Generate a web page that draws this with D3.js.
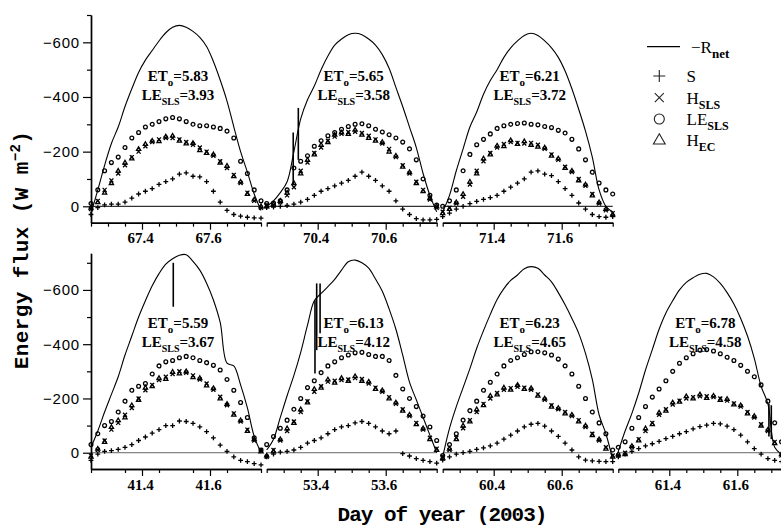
<!DOCTYPE html>
<html><head><meta charset="utf-8">
<script src="https://cdn.jsdelivr.net/npm/d3@7"></script>
<style>body{margin:0;background:#fff}svg{display:block}</style>
</head><body><svg id="c" width="781" height="528"></svg>
<script>
// ---------------- DATA ----------------
const panelDays = [67, 70, 71, 41, 53, 60, 61];
const etoValues = ["5.83", "5.65", "6.21", "5.59", "6.13", "6.23", "6.78"];
const lesValues = ["3.93", "3.58", "3.72", "3.67", "4.12", "4.65", "4.58"];
const majorTickLabels = [[67.4, 67.6], [70.4, 70.6], [71.4, 71.6], [41.4, 41.6], [53.4, 53.6], [60.4, 60.6], [61.4, 61.6]];
const yTickLabels = [-600, -400, -200, 0];
const yMinorTicks = [-700, -500, -300, -100];
// sample times: fraction of day after (day + 0.25)
const sampleOffsets = [0.00,0.02,0.04,0.06,0.08,0.10,0.12,0.14,0.16,0.18,0.20,0.22,0.24,0.26,0.28,0.30,0.32,0.34,0.36,0.38,0.40,0.42,0.44,0.46,0.48,0.50];

const rnet67 = [25,-60,-150,-230,-290,-365,-430,-490,-535,-570,-605,-635,-655,-662,-655,-640,-618,-585,-530,-462,-385,-291,-200,-125,-45,15];
const le67   = [-10,-60,-130,-160,-180,-215,-250,-270,-290,-300,-310,-320,-325,-320,-310,-300,-295,-295,-290,-285,-275,-250,-165,-120,-60,-20];
const h67    = [10,-20,-60,-95,-120,-150,-180,-200,-220,-235,-245,-250,-250,-245,-235,-225,-215,-200,-185,-165,-140,-115,-85,-50,-20,5];
const hec67  = [5,-15,-50,-85,-130,-160,-175,-210,-228,-240,-238,-255,-258,-240,-230,-232,-205,-195,-190,-160,-148,-110,-90,-45,-25,0];
const s67    = [30,5,-5,-8,-8,-15,-30,-45,-55,-65,-80,-90,-100,-118,-122,-110,-108,-90,-55,-15,15,30,36,40,42,43];

const rnet70 = [0,-20,-50,-90,-200,-320,-390,-440,-500,-550,-590,-612,-628,-633,-628,-612,-590,-555,-505,-435,-365,-290,-215,-120,-40,20];
const le70   = [-10,-12,-20,-60,-140,-165,-185,-220,-240,-258,-270,-282,-292,-300,-302,-295,-282,-272,-262,-250,-235,-210,-170,-100,-40,-5];
const h70    = [-5,-5,-15,-40,-70,-130,-160,-195,-215,-240,-255,-265,-272,-273,-268,-258,-245,-230,-210,-180,-150,-120,-90,-60,-25,5];
const hec70  = [0,-8,-20,-50,-85,-120,-170,-190,-225,-235,-262,-270,-265,-280,-262,-250,-240,-235,-200,-185,-145,-125,-85,-55,-30,0];
const s70    = [5,3,0,-3,-8,-15,-25,-40,-55,-65,-75,-85,-95,-110,-125,-110,-95,-75,-55,-20,10,30,45,50,50,48];

const rnet71 = [20,-40,-130,-210,-290,-345,-410,-460,-500,-545,-580,-605,-625,-633,-625,-605,-580,-545,-495,-430,-355,-275,-180,-60,0,20];
const le71   = [0,-20,-60,-130,-190,-225,-245,-265,-285,-295,-300,-303,-305,-300,-298,-292,-288,-278,-268,-245,-210,-170,-125,-85,-60,-45];
const h71    = [20,5,-10,-35,-80,-130,-165,-195,-215,-228,-235,-232,-230,-232,-225,-210,-190,-170,-145,-125,-100,-75,-45,-10,15,25];
const hec71  = [25,10,-15,-45,-90,-120,-175,-190,-222,-220,-242,-228,-238,-225,-218,-215,-185,-175,-140,-130,-95,-80,-40,-15,10,30];
const s71    = [38,25,10,0,-10,-18,-25,-32,-40,-55,-70,-85,-100,-125,-130,-118,-112,-90,-65,-40,-12,10,30,38,40,38];

const rnet41 = [-20,-80,-150,-215,-280,-360,-430,-500,-560,-615,-660,-695,-715,-728,-730,-705,-673,-625,-563,-480,-330,-320,-250,-165,-60,0];
const le41   = [-30,-70,-100,-115,-150,-190,-230,-245,-255,-290,-320,-335,-340,-350,-355,-350,-340,-332,-322,-305,-270,-230,-185,-130,-55,-10];
const h41    = [10,-10,-45,-85,-110,-140,-165,-200,-230,-250,-268,-280,-290,-300,-295,-285,-270,-255,-232,-206,-175,-145,-115,-85,-45,-10];
const hec41  = [15,-15,-40,-95,-120,-130,-175,-195,-240,-245,-275,-272,-298,-292,-300,-278,-275,-248,-238,-200,-180,-140,-120,-80,-50,-5];
const s41    = [28,5,-5,-8,-12,-20,-30,-45,-58,-72,-85,-100,-100,-117,-115,-108,-95,-78,-55,-28,-5,15,28,33,40,45];

const rnet53 = [-10,-50,-130,-210,-285,-370,-470,-560,-587,-612,-639,-673,-704,-710,-700,-680,-640,-595,-530,-455,-360,-260,-195,-130,-65,0];
const le53   = [-30,-60,-90,-120,-160,-200,-240,-265,-295,-320,-335,-350,-360,-368,-370,-362,-355,-355,-340,-285,-235,-200,-170,-135,-95,-45];
const h53    = [15,-10,-45,-80,-115,-150,-190,-225,-245,-262,-265,-268,-270,-275,-272,-255,-240,-225,-205,-180,-160,-135,-110,-85,-55,-15];
const hec53  = [10,-5,-50,-90,-110,-160,-185,-235,-240,-270,-258,-275,-265,-282,-265,-262,-235,-230,-200,-185,-155,-140,-105,-90,-50,-10];
const s53    = [15,5,-2,-5,-10,-20,-35,-45,-55,-70,-85,-95,-100,-110,-115,-108,-95,-80,-70,-80,3,12,22,28,33,38];

const rnet60 = [15,-90,-170,-240,-310,-385,-450,-510,-565,-605,-635,-655,-678,-686,-680,-655,-630,-590,-545,-495,-440,-366,-270,-140,-70,25];
const le60   = [10,-30,-70,-120,-155,-190,-230,-260,-290,-320,-340,-350,-362,-372,-372,-368,-360,-345,-320,-290,-245,-200,-150,-110,-70,-10];
const h60    = [15,-10,-55,-90,-120,-150,-180,-200,-220,-232,-238,-243,-240,-232,-215,-195,-175,-160,-150,-135,-120,-95,-70,-45,-20,10];
const hec60  = [20,-15,-50,-100,-115,-160,-175,-210,-215,-240,-232,-250,-235,-238,-210,-200,-170,-165,-145,-140,-115,-100,-65,-50,-15,15];
const s60    = [27,15,5,0,-5,-12,-18,-25,-35,-50,-65,-80,-95,-105,-108,-98,-80,-60,-35,-10,15,27,30,32,33,33];

const rnet61 = [-5,-80,-145,-220,-305,-380,-455,-515,-560,-600,-628,-645,-658,-661,-648,-624,-590,-548,-495,-430,-348,-245,-180,-20,5,10];
const le61   = [-20,-40,-90,-130,-170,-205,-235,-265,-300,-330,-350,-365,-378,-380,-375,-365,-352,-340,-322,-300,-280,-250,-190,-110,-40,-15];
const h61    = [10,0,-20,-50,-80,-110,-140,-160,-178,-192,-200,-205,-208,-208,-205,-200,-192,-182,-170,-150,-130,-105,-80,-40,10,15];
const hec61  = [5,5,-25,-45,-90,-105,-148,-155,-185,-188,-208,-200,-215,-202,-210,-195,-198,-178,-175,-145,-135,-100,-85,-35,5,20];
const s61    = [15,5,-5,-15,-25,-33,-42,-52,-60,-70,-78,-88,-96,-102,-108,-106,-98,-85,-65,-40,-15,5,22,28,33,35];

// short spikes in the -Rnet record: [day, value from, value to]
const rnetSpikes = [[70.328,-80,-270],[70.343,-170,-360],[41.492,-700,-538],[53.392,-562,-292],[53.397,-624,-378],[53.407,-624,-440],[61.693,-180,-60],[61.700,-175,-50]];

const rnetList = [rnet67, rnet70, rnet71, rnet41, rnet53, rnet60, rnet61];
const leList   = [le67, le70, le71, le41, le53, le60, le61];
const hList    = [h67, h70, h71, h41, h53, h60, h61];
const hecList  = [hec67, hec70, hec71, hec41, hec53, hec60, hec61];
const sList    = [s67, s70, s71, s41, s53, s60, s61];

// ---------------- LAYOUT ----------------
const svg = d3.select("#c");
const SERIF = "'Liberation Serif','Times New Roman',serif";
const SANS = "'Liberation Sans',Arial,sans-serif";
const MONO = "'Liberation Mono','Courier New',monospace";
const rows = [
  {top: 15, bottom: 222.7, vTop: -700, vBottom: 60, zero: "#000"},
  {top: 253.3, bottom: 469, vTop: -735, vBottom: 60, zero: "#666"}
];
const colX = [91, 266.7, 442.7, 618.3];
const panelW = 170;

const defs = svg.append("defs");
defs.append("clipPath").attr("id", "pageclip").append("rect").attr("width", 781).attr("height", 528);
const root = svg.append("g").attr("clip-path", "url(#pageclip)");

function markerPath(type, x, y, s) {
  if (type === "plus") return `M${x-s},${y}H${x+s}M${x},${y-s}V${y+s}`;
  if (type === "times") return `M${x-s},${y-s}L${x+s},${y+s}M${x-s},${y+s}L${x+s},${y-s}`;
  if (type === "tri") return `M${x},${y-s}L${x+s*0.95},${y+s*0.65}L${x-s*0.95},${y+s*0.65}Z`;
  return `M${x+s},${y}A${s},${s} 0 1,1 ${x-s},${y}A${s},${s} 0 1,1 ${x+s},${y}Z`;
}

panelDays.forEach((day, i) => {
  const r = i < 3 ? 0 : 1;
  const col = i < 3 ? i : i - 3;
  const R = rows[r];
  const x0 = colX[col];
  const x = d3.scaleLinear().domain([day + 0.25, day + 0.75]).range([x0, x0 + panelW]);
  const y = d3.scaleLinear().domain([R.vTop, R.vBottom]).range([R.top, R.bottom]);
  const g = root.append("g");

  // zero line
  g.append("line").attr("x1", x0).attr("x2", x0 + panelW).attr("y1", y(0)).attr("y2", y(0))
    .attr("stroke", R.zero).attr("stroke-width", 1);

  // x axis
  const step = (day === 41) ? 0.1 : 0.05;
  const minorVals = d3.range(day + 0.25, day + 0.7501, step).map(v => +v.toFixed(3))
    .filter(v => !majorTickLabels[i].some(m => Math.abs(m - v) < 1e-6));
  const axMinor = d3.axisBottom(x).tickValues(minorVals).tickSize(4).tickSizeOuter(0).tickFormat("");
  const axMajor = d3.axisBottom(x).tickValues(majorTickLabels[i]).tickSize(7).tickSizeOuter(0).tickFormat(d3.format(".1f"));
  const gx1 = g.append("g").attr("transform", `translate(0,${R.bottom})`).call(axMinor);
  const gx2 = g.append("g").attr("transform", `translate(0,${R.bottom})`).call(axMajor);
  [gx1, gx2].forEach(a => {
    a.select(".domain").attr("stroke", "#000").attr("stroke-width", 1.4);
    a.selectAll(".tick line").attr("stroke", "#000").attr("stroke-width", 1.2);
  });
  gx2.selectAll(".tick text").attr("font-family", SERIF).attr("font-size", 15).attr("font-weight", "bold")
    .attr("fill", "#000").attr("dx", -2);

  // y axis (first panel of each row)
  if (col === 0) {
    const ayMinor = d3.axisLeft(y).tickValues(yMinorTicks).tickSize(4).tickSizeOuter(0).tickFormat("");
    const ayMajor = d3.axisLeft(y).tickValues(yTickLabels).tickSize(8).tickSizeOuter(0)
      .tickFormat(d => d < 0 ? "\u2212" + Math.abs(d) : String(d));
    const gy1 = g.append("g").attr("transform", `translate(${x0},0)`).call(ayMinor);
    const gy2 = g.append("g").attr("transform", `translate(${x0},0)`).call(ayMajor);
    [gy1, gy2].forEach(a => {
      a.select(".domain").attr("stroke", "#000").attr("stroke-width", 1.4);
      a.selectAll(".tick line").attr("stroke", "#000").attr("stroke-width", 1.2);
    });
    gy2.selectAll(".tick text").attr("font-family", SANS).attr("font-size", 15).attr("fill", "#000")
      .attr("letter-spacing", 0.8);
  }

  const t = sampleOffsets.map(o => day + 0.25 + o);
  const pts = arr => arr.map((v, k) => [x(t[k]), y(v)]);

  // scatter series
  const series = [
    {data: leList[i], type: "circ", s: 1.9},
    {data: hList[i], type: "times", s: 2.0},
    {data: hecList[i], type: "tri", s: 2.2},
    {data: sList[i], type: "plus", s: 2.4}
  ];
  series.forEach(se => {
    g.append("g").selectAll("path").data(pts(se.data)).join("path")
      .attr("d", p => markerPath(se.type, p[0], p[1], se.s))
      .attr("fill", "none").attr("stroke", "#000").attr("stroke-width", 1.3);
  });

  // -Rnet line
  const line = d3.line().x(p => p[0]).y(p => p[1]).curve(d3.curveCatmullRom.alpha(0.5));
  g.append("path").datum(pts(rnetList[i])).attr("d", line)
    .attr("fill", "none").attr("stroke", "#000").attr("stroke-width", 1.1);
  rnetSpikes.filter(sp => Math.floor(sp[0]) === day).forEach(sp => {
    g.append("line").attr("x1", x(sp[0])).attr("x2", x(sp[0])).attr("y1", y(sp[1])).attr("y2", y(sp[2]))
      .attr("stroke", "#000").attr("stroke-width", 1.6);
  });

  // annotations
  const cx = x0 + panelW / 2 + 2;
  const t1 = g.append("text").attr("x", cx).attr("y", y(-460)).attr("text-anchor", "middle")
    .attr("font-family", SERIF).attr("font-size", 15).attr("font-weight", "bold");
  t1.append("tspan").text("ET");
  t1.append("tspan").attr("dy", 5).attr("font-size", 11).text("o");
  t1.append("tspan").attr("dy", -5).text("=" + etoValues[i]);
  const t2 = g.append("text").attr("x", cx).attr("y", y(-390)).attr("text-anchor", "middle")
    .attr("font-family", SERIF).attr("font-size", 15).attr("font-weight", "bold");
  t2.append("tspan").text("LE");
  t2.append("tspan").attr("dy", 5).attr("font-size", 10).text("SLS");
  t2.append("tspan").attr("dy", -5).text("=" + lesValues[i]);
});

// ---------------- LEGEND ----------------
const lg = svg.append("g").attr("font-family", SERIF).attr("fill", "#000");
lg.append("line").attr("x1", 647).attr("x2", 680).attr("y1", 46.7).attr("y2", 46.7)
  .attr("stroke", "#000").attr("stroke-width", 1.3);
const lt0 = lg.append("text").attr("x", 691).attr("y", 53).attr("font-size", 17);
lt0.append("tspan").text("\u2212R");
lt0.append("tspan").attr("dy", 5).attr("font-size", 13).attr("font-weight", "bold").text("net");

const legendNames = ["S", "H", "LE", "H"];
const legendSubs = ["", "SLS", "SLS", "EC"];
const legendTypes = ["plus", "times", "circ", "tri"];
const legendSizes = [6, 4.5, 5, 6.2];
const legendY = [76, 97.7, 119, 140];
legendNames.forEach((nm, k) => {
  lg.append("path").attr("d", markerPath(legendTypes[k], 659.3, legendY[k], legendSizes[k]))
    .attr("fill", "none").attr("stroke", "#222").attr("stroke-width", 1.1);
  const tx = lg.append("text").attr("x", 686.5).attr("y", legendY[k] + 6).attr("font-size", 17);
  tx.append("tspan").text(nm);
  if (legendSubs[k]) tx.append("tspan").attr("dy", 5).attr("font-size", 12).attr("font-weight", "bold").text(legendSubs[k]);
});

// ---------------- AXIS TITLES ----------------
svg.append("text").attr("x", 442).attr("y", 521).attr("text-anchor", "middle")
  .attr("font-family", MONO).attr("font-size", 21).attr("font-weight", "bold").attr("letter-spacing", -1)
  .text("Day of year (2003)");
const yt = svg.append("text").attr("transform", "translate(28,250) rotate(-90)").attr("text-anchor", "middle")
  .attr("font-family", MONO).attr("font-size", 21).attr("font-weight", "bold").attr("letter-spacing", 0.4);
yt.append("tspan").text("Energy flux (W m");
yt.append("tspan").attr("dy", -8).attr("font-size", 14).text("\u22122");
yt.append("tspan").attr("dy", 8).text(")");
</script></body></html>
